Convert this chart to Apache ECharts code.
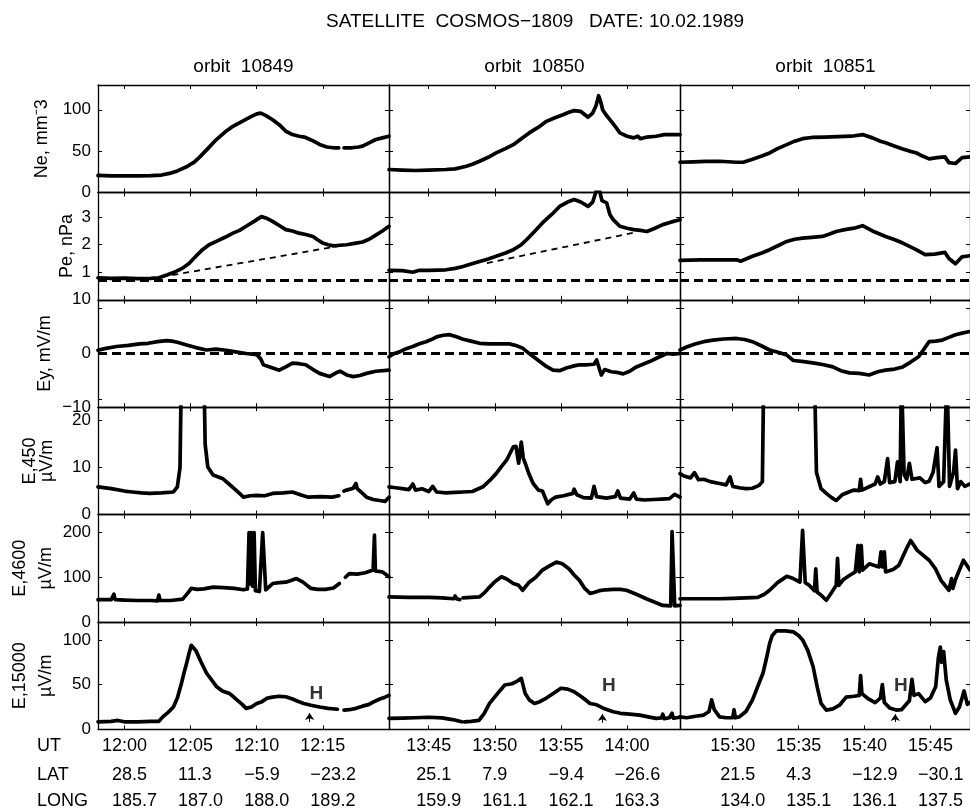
<!DOCTYPE html>
<html>
<head>
<meta charset="utf-8">
<script src="https://cdn.jsdelivr.net/npm/echarts@6/dist/echarts.min.js"></script>
<style>
html,body{margin:0;background:#fff}
#main{width:970px;height:812px}
</style>
</head>
<body>
<div id="main"></div>
<script>
var FONT = '"Liberation Sans", Arial, Helvetica, sans-serif';

// time axes, minutes of day
var xMin = [718, 822, 926];
var xMax = [740, 844, 948];
var utTicks = [[720, 725, 730, 735], [825, 830, 835, 840], [930, 935, 940, 945]];
var latLabels = [['28.5', '11.3', '\u22125.9', '\u221223.2'], ['25.1', '7.9', '\u22129.4', '\u221226.6'], ['21.5', '4.3', '\u221212.9', '\u221230.1']];
var longLabels = [['185.7', '187.0', '188.0', '189.2'], ['159.9', '161.1', '162.1', '163.3'], ['134.0', '135.1', '136.1', '137.5']];
var orbits = ['orbit  10849', 'orbit  10850', 'orbit  10851'];

var yMin = [0, 0, -10, 0, 0, 0];
var yMax = [130, 3.9, 10, 22.8, 240, 120];
var yLabelVals = [[0, 50, 100], [1, 2, 3], [-10, 0, 10], [0, 10, 20], [0, 100, 200], [0, 50, 100]];
var yTickVals = [[50, 100], [1, 2, 3], [-8.5, 8.5], [10, 20], [100, 200], [50, 100]];
var yNames = ['Ne, mm\u207B3', 'Pe, nPa', 'Ey, mV/m', 'E,450\n\u00B5V/m', 'E,4600\n\u00B5V/m', 'E,15000\n\u00B5V/m'];

// Ne
var ne1 = [[718,20.5],[719,20],[720,20],[721,20],[722,20.3],[722.8,21],[723.4,23],[724,26],[724.7,31],[725.3,37],[725.7,43],[726.3,53],[726.95,64],[727.6,73],[728.2,80],[728.9,86],[729.5,91],[730,95],[730.3,96],[730.7,93],[731.2,88],[731.7,82],[732.2,74],[732.7,70],[733.2,68],[733.6,67],[733.9,65],[734.3,62],[734.75,58],[735.3,55],[735.8,54],[736.2,54],[736.35,'-'],[736.6,54],[737.2,54],[737.7,55],[738,56],[738.5,60],[739,64],[739.5,66],[740,68]];
var ne2 = [[822,27.7],[823,27],[824,26.5],[825,27],[826.3,27.7],[827,28.5],[827.85,31.7],[828.3,34],[828.85,37.7],[829.5,42.5],[830.1,47.8],[830.8,53],[831.4,57.8],[832,65],[832.6,72],[833.3,79],[833.9,86],[834.5,90],[835.15,94],[835.6,97],[836,99],[836.5,98],[837.05,91],[837.4,96],[837.65,105],[837.85,117],[838,110],[838.15,100],[838.4,94],[838.7,88],[839.1,80],[839.45,72],[840,68],[840.5,66],[840.8,68],[841,65],[841.5,67],[842.2,68],[842.8,70],[843.4,70],[844,70]];
var ne3 = [[926,36.5],[927,37],[928,37.5],[929,37.7],[930.3,36.5],[930.8,36.5],[931.5,40],[932.2,44],[932.8,47.8],[933.4,53],[934.1,57.8],[934.7,62],[935.3,65],[936,66.5],[937,67],[938,67.5],[939,68],[939.85,70],[940.6,66],[941.2,62],[941.6,60],[942.3,56],[942.9,52.6],[943.4,50],[943.9,48],[944.4,44],[944.9,40.6],[945.5,42],[946.1,43],[946.4,36],[946.9,35],[947.4,42],[948,43]];

// Pe
var pe1 = [[718,0.8],[719,0.78],[720,0.79],[721,0.77],[722,0.78],[722.6,0.8],[723.2,0.9],[723.9,1.03],[724.4,1.15],[724.9,1.33],[725.4,1.58],[725.9,1.82],[726.4,2.0],[726.95,2.12],[727.6,2.27],[728.2,2.42],[728.7,2.52],[729.2,2.67],[729.8,2.85],[730.35,3.02],[730.8,2.95],[731.2,2.85],[731.7,2.7],[732.2,2.55],[732.7,2.5],[733.2,2.42],[733.7,2.37],[734.25,2.3],[734.6,2.18],[735,2.06],[735.4,2.0],[735.8,1.96],[736.3,1.98],[736.8,2.0],[737.4,2.05],[738,2.1],[738.5,2.2],[739,2.35],[739.5,2.5],[740,2.67]];
var pe2 = [[822,1.07],[823,1.06],[823.8,1.0],[824.3,1.07],[825,1.07],[826.3,1.09],[827,1.14],[827.6,1.21],[828.2,1.3],[828.85,1.39],[829.5,1.48],[830.1,1.58],[830.8,1.7],[831.4,1.82],[832,2.0],[832.4,2.18],[833,2.48],[833.6,2.79],[834.3,3.1],[834.9,3.39],[835.5,3.55],[836,3.64],[836.5,3.55],[837.05,3.39],[837.4,3.55],[837.7,4.0],[837.9,4.0],[838.1,3.6],[838.45,3.52],[838.7,3.1],[838.95,2.91],[839.45,2.67],[840,2.6],[840.5,2.55],[841,2.52],[841.5,2.48],[842.1,2.6],[842.7,2.73],[843.3,2.82],[844,2.91]];
var pe3 = [[926,1.43],[927.5,1.45],[929,1.45],[930.3,1.45],[930.6,1.4],[931,1.48],[931.5,1.58],[932.2,1.7],[932.8,1.82],[933.5,1.98],[934.1,2.12],[934.7,2.2],[935.3,2.24],[936,2.27],[936.8,2.3],[937.3,2.38],[937.85,2.48],[938.5,2.55],[939.2,2.6],[939.85,2.69],[940.6,2.5],[941.6,2.3],[942.3,2.18],[942.9,2.06],[943.8,1.85],[944.6,1.64],[945.3,1.66],[946.1,1.72],[946.4,1.5],[946.9,1.31],[947.4,1.56],[948,1.6]];
var peTrend1 = [[722.8,0.83],[736.3,1.96]];
var peTrend2 = [[829.4,1.33],[840.7,2.46]];
var peBase = 0.72;

// Ey
var ey1 = [[718,0.6],[718.5,0.9],[719.4,1.3],[720.3,1.5],[721.15,1.8],[721.8,1.9],[722.5,2.2],[723.2,2.4],[723.6,2.3],[724,2.1],[724.7,1.6],[725.4,1.1],[726.2,0.65],[726.9,0.8],[727.7,0.6],[728.4,0.3],[729.2,0],[730,-0.2],[730.3,-1],[730.5,-2.1],[731.1,-2.6],[731.7,-3.1],[732.2,-2.5],[732.7,-1.8],[733.2,-1.9],[733.7,-2.1],[734.2,-2.9],[734.75,-3.7],[735.5,-4.3],[736,-3.6],[736.3,-3.3],[736.8,-4.0],[737.3,-4.3],[737.8,-4.1],[738.3,-3.7],[739,-3.3],[740,-3.1]];
var ey2 = [[822,-0.6],[822.4,0],[822.8,0.3],[823.3,0.9],[823.8,1.3],[824.3,1.8],[824.8,2.2],[825.2,2.6],[825.6,3.1],[826.1,3.4],[826.6,3.5],[827.1,3.1],[827.6,2.65],[828.2,2.3],[828.85,1.9],[829.6,1.8],[830.3,1.8],[831.1,1.8],[831.6,1.5],[832.1,1.0],[832.7,-0.2],[833.4,-1.5],[833.9,-2.4],[834.4,-3.1],[834.9,-3.2],[835.4,-2.7],[836.0,-2.3],[836.4,-2.1],[837,-2.1],[837.5,-2.0],[837.7,-1.2],[838.05,-4.0],[838.3,-3.0],[838.8,-3.4],[839.2,-3.5],[839.7,-3.8],[840.2,-3.3],[840.7,-2.5],[841.2,-2.0],[841.7,-1.5],[842.3,-0.8],[843,0],[843.5,-0.1],[844,0]];
var ey3 = [[926,0.65],[926.5,1.2],[927.2,1.8],[927.8,2.2],[928.5,2.5],[929.3,2.7],[930.3,2.8],[930.9,2.6],[931.5,2.2],[932.2,1.4],[932.8,0.65],[933.5,0.2],[934.1,-0.3],[934.6,-1.3],[935.4,-1.5],[936.2,-1.8],[936.9,-2.1],[937.6,-2.5],[938.2,-3.2],[938.85,-3.6],[939.6,-3.7],[940.35,-4.0],[941,-3.4],[941.6,-3.1],[942.3,-2.9],[942.9,-2.5],[943.5,-1.6],[944.1,-0.6],[944.5,0.8],[944.9,2.2],[945.4,2.3],[945.9,2.5],[946.4,3.0],[946.9,3.5],[947.4,3.8],[948,4.1]];

// E 450 Hz
var e450_1 = [[718,5.9],[719,5.5],[720,5.0],[720.6,4.8],[721.3,4.6],[721.9,4.5],[722.8,4.6],[723.7,4.8],[724,5.9],[724.2,10],[724.35,40],[725.95,40],[726.1,15],[726.3,10.1],[726.7,8.4],[727.45,7.6],[727.9,6.5],[728.3,5.5],[728.7,4.5],[729,3.7],[729.5,4.0],[730,4.1],[730.6,4.0],[731.2,4.5],[732,4.6],[732.7,4.8],[733.3,4.2],[733.9,3.7],[734.8,3.8],[735.7,3.7],[736.2,4.0],[736.35,'-'],[736.6,5.0],[736.8,5.2],[737.3,5.6],[737.5,6.6],[737.6,5.5],[738,4.5],[738.3,3.7],[738.8,3.2],[739.3,3.0],[739.7,2.8],[740,3.7]];
var e450_2 = [[822,5.9],[822.5,5.7],[823,5.5],[823.5,5.3],[823.8,6.5],[824,5.2],[824.5,5.5],[825,4.9],[825.3,6.0],[825.6,4.8],[826.3,4.6],[827,4.7],[827.6,4.8],[828.3,4.9],[829.1,5.9],[829.6,7.2],[830.1,8.7],[830.5,10.2],[830.9,11.6],[831.4,14.4],[831.6,14.5],[831.8,10.9],[832.0,15.4],[832.15,12],[832.3,10.9],[832.6,8.5],[832.9,6.6],[833.3,5.2],[833.6,5.0],[834,2.3],[834.3,3.2],[834.6,3.7],[835.2,4.0],[835.9,4.5],[836,5.4],[836.2,4.2],[836.7,3.6],[837.3,3.5],[837.5,6.0],[837.7,3.8],[838.45,3.5],[839.1,3.8],[839.3,5.0],[839.5,3.5],[840.2,3.3],[840.5,4.6],[840.7,3.3],[841.3,3.1],[842,3.2],[842.6,3.3],[843.2,3.4],[843.6,4.3],[844,3.7]];
var e450_3 = [[926,8.7],[926.3,8.2],[926.8,7.8],[927.1,8.9],[927.4,7.4],[927.8,7.5],[928.3,7.0],[929,6.6],[929.5,6.3],[929.8,8.0],[930,6.0],[930.5,5.7],[931,5.5],[931.5,5.6],[932,6.2],[932.25,7],[932.35,30],[936.2,30],[936.35,9],[936.7,5.5],[937.1,4.5],[937.5,3.6],[937.85,3.0],[938.3,4.2],[938.8,4.8],[939.2,5.2],[939.6,5.1],[939.7,7.5],[939.8,5.2],[940.35,5.9],[940.8,6.5],[941,8],[941.2,6.5],[941.5,7],[941.75,11.9],[941.9,6.8],[942.3,7],[942.5,11.2],[942.7,7],[942.8,30],[942.9,30],[943.0,8.5],[943.2,7.5],[943.4,10.9],[943.6,7.5],[944.2,7.8],[944.6,6.8],[944.9,7.1],[945.2,9],[945.5,14.2],[945.65,6],[946,7],[946.25,30],[946.35,30],[946.45,6],[946.75,9],[946.9,13.7],[947.05,5.5],[947.3,7],[947.6,6],[948,6.5]];

// E 4600 Hz
var e4600_1 = [[718,50],[719,50],[719.2,62],[719.3,50],[720,49],[721,48],[722,48],[722.5,47],[722.6,60],[722.7,48],[723.5,48],[724.4,51],[724.8,65],[725.05,75],[725.5,73],[726,74],[726.7,78],[727.5,77],[728.3,75],[729,72],[729.3,74],[729.42,200],[729.5,85],[729.6,200],[729.68,80],[729.8,200],[729.9,70],[730.2,68],[730.45,200],[730.6,200],[730.68,72],[730.8,75],[731.2,86],[731.7,88],[732.2,89],[732.7,94],[733,97],[733.5,89],[734.1,75],[734.6,73],[735.2,73],[735.8,76],[736.25,86],[736.4,'-'],[736.7,100],[737,108],[737.6,107],[738.2,110],[738.8,116],[738.9,194],[738.97,114],[739.5,112],[740,101]];
var e4600_2 = [[822,56],[823.5,55],[825,55],[826,54],[826.9,52],[827,58],[827.1,52],[827.35,50],[827.45,'-'],[827.6,54],[828.2,55],[828.85,56],[829.2,65],[829.6,78],[830,90],[830.5,101],[830.9,96],[831.4,86],[831.8,82],[832.1,71],[832.6,89],[833.1,100],[833.6,116],[834.1,125],[834.65,134],[835.1,130],[835.6,119],[836,105],[836.4,93],[836.8,75],[837.2,64],[837.5,66],[837.9,70],[838.4,72],[838.95,73],[839.5,73],[839.95,71],[840.7,62],[841.45,52],[842.1,44],[842.7,37],[843.3,36],[843.4,202],[843.55,202],[843.6,36],[844,37]];
var e4600_3 = [[926,52],[927,52],[928,52],[929,52],[930,53],[931,54],[931.9,55],[932.4,62],[932.8,71],[933.4,88],[934.1,102],[934.6,97],[935.1,89],[935.3,205],[935.4,205],[935.5,88],[935.8,82],[936.2,70],[936.3,119],[936.4,67],[936.7,60],[937.1,48.5],[937.5,66],[937.85,82],[937.95,142],[938.05,82],[938.4,95],[938.85,104],[939.3,112],[939.5,171],[939.6,112],[939.75,171],[939.85,116],[940.36,130],[941.1,123],[941.25,157],[941.35,123],[941.5,157],[941.6,112],[941.7,108],[942.2,118],[942.6,127],[943.25,168],[943.5,182],[944,160],[944.9,138],[945.4,118],[945.8,93],[946.4,71],[946.6,97],[946.7,75],[946.9,95],[947.5,138],[948,116]];

// E 15000 Hz
var e15000_1 = [[718,8.5],[719,9],[719.5,10],[720,8.5],[721,8.5],[722,9],[722.6,9],[722.9,14],[723.3,19],[723.7,25],[724,35],[724.3,51],[724.5,63],[724.7,74],[724.9,86],[725.05,94],[725.2,93],[725.4,88],[725.8,75],[726.2,63],[726.6,55],[726.95,48],[727.4,43],[727.95,40],[728.2,37],[728.5,33],[728.9,28],[729.2,23.5],[729.6,25],[730,29],[730.4,31],[730.8,35],[731.2,36],[731.7,37],[732.2,36.5],[732.7,34],[733.1,31.5],[733.55,29],[734.1,27],[734.75,25],[735.4,23.5],[736.1,22.5],[736.3,'-'],[736.6,21.6],[737,22],[737.5,23.5],[738,26],[738.5,28],[738.8,30.5],[739.3,34],[739.7,36],[740,38]];
var e15000_2 = [[822,12.3],[823,12.5],[824,13],[825,13.6],[826,12.8],[826.8,11],[827.5,8.5],[827.6,'-'],[827.7,8.5],[828.2,9],[828.8,10],[829.2,18],[829.6,29],[830.2,40],[830.75,49.6],[831.3,51],[831.7,54],[832,57],[832.3,40],[832.6,33],[833,29],[833.4,31],[833.9,35],[834.5,41],[835,46],[835.5,45],[836,42],[836.6,36],[837.2,29],[837.7,27.5],[838.3,23],[838.95,19.7],[839.5,18],[840.2,17],[840.95,16],[841.6,14],[842.2,12.3],[842.6,12.8],[842.7,17],[842.8,12],[843.2,13],[843.4,18],[843.5,12.5],[844,13.6]];
var e15000_3 = [[926,14],[926.5,13],[927.3,15],[927.8,16],[928.2,20],[928.4,33],[928.6,22],[929,14],[929.5,13],[930,13],[930.1,22],[930.2,13],[930.5,14],[931,20],[931.5,33],[931.9,48],[932.3,63],[932.6,82],[932.8,96],[933,105],[933.3,110],[934,110],[934.6,109],[935,105],[935.3,100],[935.7,88],[936.1,70],[936.4,48],[936.7,29],[937.1,21.6],[937.6,23],[938.1,27],[938.6,36],[939.2,37],[939.6,38],[939.7,60],[939.8,40],[940.3,34],[940.8,30],[941.2,35],[941.35,50],[941.5,30],[941.9,24],[942.4,21.6],[942.8,22],[943.1,27],[943.4,32],[943.6,56],[943.75,38],[944.1,40],[944.6,31],[945,35],[945.4,48],[945.6,80],[945.75,92],[945.85,75],[946,87],[946.2,55],[946.5,33],[946.9,18],[947.2,25],[947.55,43],[947.8,28],[948,30]];

// "H" markers: label position and arrow [t, from, to]
var hLabels = [[734.5, 39.5], [838.63, 48.8], [942.76, 48.8]];
var hArrows = [[734.0, 8.2, 18.2], [838.13, 7.4, 17.1], [942.33, 8.2, 17.1]];

var panels = [
  [ne1, ne2, ne3],
  [pe1, pe2, pe3],
  [ey1, ey2, ey3],
  [e450_1, e450_2, e450_3],
  [e4600_1, e4600_2, e4600_3],
  [e15000_1, e15000_2, e15000_3]
];
var peTrends = [peTrend1, peTrend2, null];

var colLeft = [98, 389, 680], colW = 291, top0 = 85, rowH = 107.4;
var nameGaps = [46, 21, 43, 42, 39, 39];
var nameLH = [20, 20, 20, 17, 26, 26];

function fmtUT(v) {
  var h = Math.floor(v / 60), m = Math.round(v - h * 60);
  return h + ':' + (m < 10 ? '0' + m : m);
}
function fmtY(v) {
  return v < 0 ? '\u2212' + Math.abs(v) : String(v);
}

var lineBlack = {color: '#000', width: 1.3};
var grids = [], xAxes = [], yAxes = [], series = [];

for (var r = 0; r < 6; r++) {
  for (var c = 0; c < 3; c++) {
    var g = r * 3 + c;
    grids.push({left: colLeft[c], top: top0 + r * rowH, width: colW, height: rowH, show: false});
    ['bottom', 'top'].forEach(function (pos) {
      xAxes.push({
        gridIndex: g, type: 'value', position: pos, min: xMin[c], max: xMax[c],
        axisLine: {show: true, onZero: false, lineStyle: lineBlack},
        axisTick: {show: true, inside: true, length: 4, customValues: utTicks[c], lineStyle: {color: '#000', width: 1}},
        axisLabel: {show: pos === 'bottom' && r === 5, customValues: utTicks[c], formatter: fmtUT,
          color: '#000', fontSize: 18, fontFamily: FONT, margin: 8},
        splitLine: {show: false}
      });
    });
    ['left', 'right'].forEach(function (pos) {
      var ax = {
        gridIndex: g, type: 'value', position: pos, min: yMin[r], max: yMax[r],
        axisLine: {show: true, onZero: false, lineStyle: lineBlack},
        axisTick: {show: true, inside: true, length: 4, customValues: yTickVals[r], lineStyle: {color: '#000', width: 1}},
        axisLabel: {show: pos === 'left' && c === 0, customValues: yLabelVals[r], formatter: fmtY,
          color: '#000', fontSize: 17, fontFamily: FONT, margin: 7},
        splitLine: {show: false}
      };
      if (pos === 'left' && c === 0) {
        ax.name = yNames[r];
        ax.nameLocation = 'middle';
        ax.nameRotate = 90;
        ax.nameGap = nameGaps[r];
        ax.nameTextStyle = {color: '#000', fontSize: 18, fontFamily: FONT, lineHeight: nameLH[r]};
      }
      yAxes.push(ax);
    });

    var s = {
      type: 'line', xAxisIndex: 2 * g, yAxisIndex: 2 * g, data: panels[r][c],
      showSymbol: false, connectNulls: false, clip: true, silent: true,
      lineStyle: {color: '#000', width: 3.7, join: 'round', cap: 'round'}
    };
    if (r === 1) {
      s.markLine = {silent: true, symbol: 'none', label: {show: false},
        lineStyle: {color: '#000', width: 3, type: [9, 5]}, data: [{yAxis: peBase}]};
    }
    if (r === 2) {
      s.markLine = {silent: true, symbol: 'none', label: {show: false},
        lineStyle: {color: '#000', width: 3, type: [9, 5]}, data: [{yAxis: 0}]};
    }
    if (r === 5) {
      var a = hArrows[c];
      s.markLine = {silent: true, symbol: ['none', 'arrow'], symbolSize: 7, label: {show: false},
        lineStyle: {color: '#000', width: 1, type: 'solid'},
        data: [[{coord: [a[0], a[1]]}, {coord: [a[0], a[2]]}]]};
    }
    series.push(s);

    if (r === 1 && peTrends[c]) {
      series.push({type: 'line', xAxisIndex: 2 * g, yAxisIndex: 2 * g, data: peTrends[c],
        showSymbol: false, silent: true, lineStyle: {color: '#000', width: 1.8, type: [6, 5]}});
    }
    if (r === 5) {
      series.push({type: 'scatter', xAxisIndex: 2 * g, yAxisIndex: 2 * g, data: [hLabels[c]],
        symbolSize: 1, itemStyle: {color: 'rgba(0,0,0,0)'}, silent: true,
        label: {show: true, position: 'inside', formatter: 'H', color: '#000', fontSize: 19,
          fontWeight: 'bold', fontFamily: FONT}});
    }
  }
}

var chart = echarts.init(document.getElementById('main'));
chart.setOption({
  animation: false,
  backgroundColor: '#fff',
  grid: grids, xAxis: xAxes, yAxis: yAxes, series: series
});

// title, orbit headers and the UT / LAT / LONG table under the bottom row
function txt(x, y, text, size, align) {
  return {type: 'text', x: x, y: y, silent: true,
    style: {text: text, fontSize: size, fontFamily: FONT, fill: '#000',
      align: align, verticalAlign: 'middle', textAlign: align, textVerticalAlign: 'middle'}};
}
var gfx = [];
gfx.push(txt(535, 22, 'SATELLITE  COSMOS\u22121809   DATE: 10.02.1989', 19, 'center'));
for (var c = 0; c < 3; c++) {
  gfx.push(txt(colLeft[c] + colW / 2, 67, orbits[c], 19, 'center'));
  var gi = 15 + c;
  for (var k = 0; k < utTicks[c].length; k++) {
    var px = chart.convertToPixel({xAxisIndex: 2 * gi}, utTicks[c][k]);
    gfx.push(txt(px - 12.5, 775, latLabels[c][k], 18, 'left'));
    gfx.push(txt(px - 12.5, 801, longLabels[c][k], 18, 'left'));
  }
}
gfx.push(txt(37, 746, 'UT', 18, 'left'));
gfx.push(txt(37, 775, 'LAT', 18, 'left'));
gfx.push(txt(37, 801, 'LONG', 18, 'left'));
chart.setOption({graphic: {elements: gfx}});
</script>
</body>
</html>
